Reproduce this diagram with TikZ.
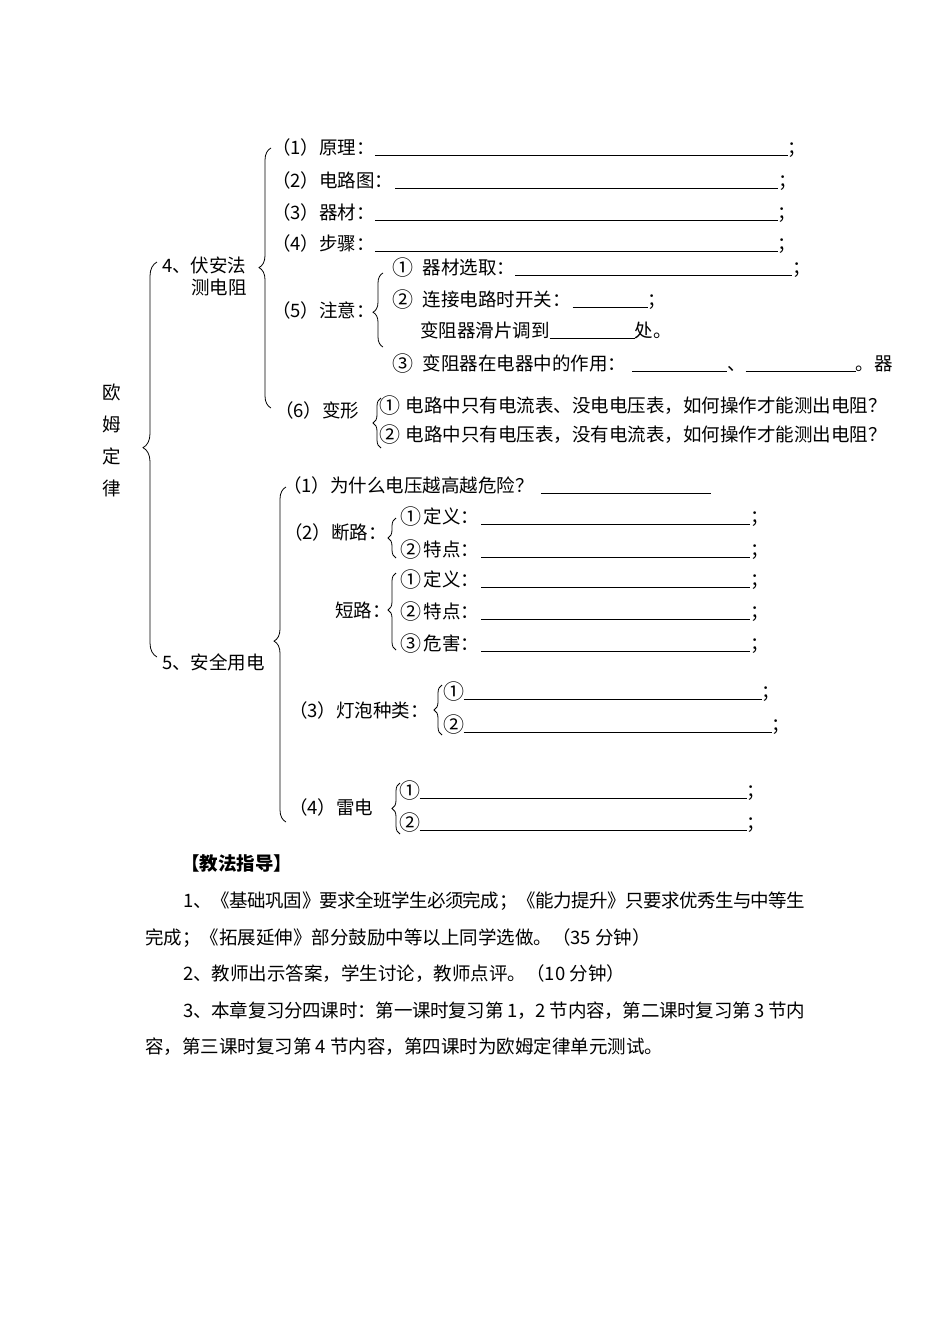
\documentclass[tikz,border=0pt]{standalone}
\usepackage{fontspec}
\usepackage{tikz}
\usetikzlibrary{decorations.pathreplacing}
\newfontfamily\song{Noto Sans CJK SC}
\XeTeXlinebreaklocale "zh"
\XeTeXlinebreakskip=0pt plus 1pt minus 1pt
\newcommand{\answerline}[1]{\rule[-1.6pt]{#1pt}{0.9pt}}
\newcommand{\cnum}[1]{\makebox[18.5pt][c]{\raisebox{-1pt}{\fontsize{21}{21}\selectfont #1}}}
\tikzset{
  txt/.style={anchor=base west,inner sep=0pt,font=\song\fontsize{18.5}{23}\selectfont},
  headtxt/.style={txt,font=\song\bfseries\fontsize{18.5}{23}\selectfont},
  paratxt/.style={anchor=north west,inner sep=0pt,text width=660pt,align=justify,
                  font=\song\fontsize{18.5}{36.5}\selectfont},
  brc/.style={decorate,decoration={brace,amplitude=#1},line width=0.8pt},
  brc/.default=8pt
}

\begin{document}
\begin{tikzpicture}[x=1pt,y=-1pt]
  \useasboundingbox (0,0) rectangle (950,1344);

  % title of the chapter
  \node[txt,anchor=center,align=center,font=\song\fontsize{18.5}{32}\selectfont] (ohm)
      at (112,440) {欧\\姆\\定\\律};
  \coordinate (ohmB) at (157,657);
  \coordinate (ohmT) at (157,262);
  \draw[brc=14pt,decoration={aspect=0.53}] (ohmB) -- (ohmT);

  % 4 measuring resistance
  \node[txt] (fa) at (162,272) {4、伏安法};
  \node[txt] (fb) at (191,294) {测电阻};
  \coordinate (faB) at (271,408);
  \coordinate (faT) at (271,148);
  \draw[brc=12pt,decoration={aspect=0.54}] (faB) -- (faT);

  \node[txt] (p1) at (272,154) {（1）原理：\answerline{413}；};
  \node[txt] (p2) at (272,187) {（2）电路图：\hspace{2pt}\answerline{383}；};
  \node[txt] (p3) at (272,219) {（3）器材：\answerline{403}；};
  \node[txt] (p4) at (272,250) {（4）步骤：\answerline{403}；};

  \node[txt] (p5) at (272,317) {（5）注意：};
  \coordinate (p5B) at (383,347);
  \coordinate (p5T) at (383,273);
  \draw[brc=10pt,decoration={aspect=0.47}] (p5B) -- (p5T);
  \node[txt] (n1) at (394,274) {\cnum{①}\hspace{10pt}器材选取：\answerline{277}；};
  \node[txt] (n2) at (394,306) {\cnum{②}\hspace{10pt}连接电路时开关：\hspace{2pt}\answerline{75}；};
  \node[txt] (n2b) at (420,337) {变阻器滑片调到\answerline{85}处。};
  \node[txt] (n3) at (394,370)
      {\cnum{③}\hspace{10pt}变阻器在电器中的作用：\hspace{6pt}\answerline{95}、\answerline{110}。器};

  \node[txt] (p6) at (275,417) {（6）变形};
  \coordinate (p6B) at (381,448);
  \coordinate (p6T) at (381,398);
  \draw[brc] (p6B) -- (p6T);
  \node[txt] (v1) at (381,412) {\cnum{①}\hspace{6pt}电路中只有电流表、没电电压表，如何操作才能测出电阻？};
  \node[txt] (v2) at (381,441) {\cnum{②}\hspace{6pt}电路中只有电压表，没有电流表，如何操作才能测出电阻？};

  % 5 safe use of electricity
  \node[txt] (sa) at (162,669) {5、安全用电};
  \coordinate (saB) at (286,822);
  \coordinate (saT) at (286,487);
  \draw[brc=12pt,decoration={aspect=0.54}] (saB) -- (saT);

  \node[txt] (s1) at (283,492) {（1）为什么电压越高越危险？\hspace{7pt}\answerline{170}};

  \node[txt] (s2) at (284,539) {（2）断路：};
  \coordinate (s2B) at (396,558);
  \coordinate (s2T) at (396,518);
  \draw[brc] (s2B) -- (s2T);
  \node[txt] (d1) at (402,523) {\cnum{①}\hspace{3pt}定义：\hspace{2pt}\answerline{269}；};
  \node[txt] (d2) at (402,556) {\cnum{②}\hspace{3pt}特点：\hspace{2pt}\answerline{269}；};

  \node[txt] (s3) at (335,617) {短路：};
  \coordinate (s3B) at (396,650);
  \coordinate (s3T) at (396,573);
  \draw[brc,decoration={aspect=0.52}] (s3B) -- (s3T);
  \node[txt] (c1) at (402,586) {\cnum{①}\hspace{3pt}定义：\hspace{2pt}\answerline{269}；};
  \node[txt] (c2) at (402,618) {\cnum{②}\hspace{3pt}特点：\hspace{2pt}\answerline{269}；};
  \node[txt] (c3) at (402,650) {\cnum{③}\hspace{3pt}危害：\hspace{2pt}\answerline{269}；};

  \node[txt] (s4) at (289,717) {（3）灯泡种类：};
  \coordinate (s4B) at (442,735);
  \coordinate (s4T) at (442,685);
  \draw[brc] (s4B) -- (s4T);
  \node[txt] (b1) at (445,698) {\cnum{①}\answerline{298}；};
  \node[txt] (b2) at (445,731) {\cnum{②}\answerline{308}；};

  \node[txt] (s5) at (289,814) {（4）雷电};
  \coordinate (s5B) at (400,834);
  \coordinate (s5T) at (400,783);
  \draw[brc] (s5B) -- (s5T);
  \node[txt] (l1) at (401,797) {\cnum{①}\answerline{327}；};
  \node[txt] (l2) at (401,829) {\cnum{②}\answerline{327}；};

  % teaching notes
  \node[headtxt] (head) at (181,870) {【教法指导】};
  \node[paratxt] (notes) at (145,892)
      {\hspace*{38pt}1、《基础巩固》要求全班学生必须完成；《能力提升》只要求优秀生与中等生\linebreak
       完成；《拓展延伸》部分鼓励中等以上同学选做。（35 分钟）\par
       \hspace*{38pt}2、教师出示答案，学生讨论，教师点评。（10 分钟）\par
       \hspace*{38pt}3、本章复习分四课时：第一课时复习第 1，2 节内容，第二课时复习第 3 节内\linebreak
       容，第三课时复习第 4 节内容，第四课时为欧姆定律单元测试。};

\end{tikzpicture}
\end{document}
